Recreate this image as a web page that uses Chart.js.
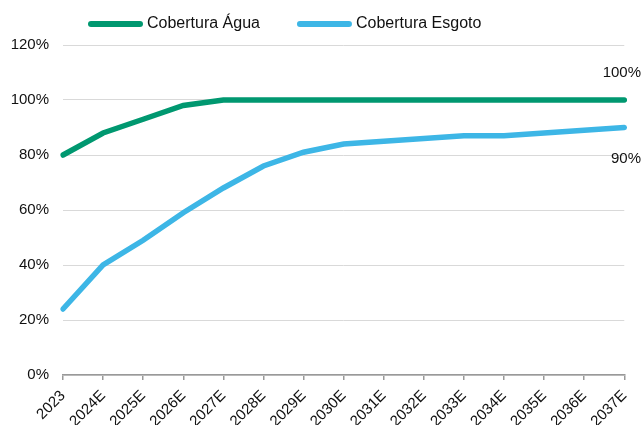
<!DOCTYPE html>
<html><head><meta charset="utf-8">
<script src="https://cdn.jsdelivr.net/npm/chart.js@4/dist/chart.umd.min.js"></script>
<style>html,body{margin:0;padding:0;background:#fff}#wrap{width:644px;height:425px}</style>
</head><body><div id="wrap"><canvas id="c" width="644" height="425"></canvas></div>
<script>
const categories = ['2023','2024E','2025E','2026E','2027E','2028E','2029E','2030E','2031E','2032E','2033E','2034E','2035E','2036E','2037E'];
const agua = [80,88,93,98,100,100,100,100,100,100,100,100,100,100,100];
const esgoto = [24,40,49,59,68,76,81,84,85,86,87,87,88,89,90];
const yTicks = [0,20,40,60,80,100,120];
const FONT = '"Liberation Sans", Arial, sans-serif';

const endLabels = {
  id:'endLabels',
  afterDatasetsDraw(chart){
    const ctx = chart.ctx;
    ctx.save();
    ctx.font = '15px ' + FONT;
    ctx.fillStyle = '#111';
    ctx.textAlign = 'right';
    ctx.textBaseline = 'middle';
    chart.data.datasets.forEach((ds, i) => {
      const meta = chart.getDatasetMeta(i);
      const pt = meta.data[meta.data.length-1];
      const v = ds.data[ds.data.length-1];
      ctx.fillText(v + '%', chart.width - 3, i === 0 ? pt.y - 27 : pt.y + 31);
    });
    ctx.restore();
  }
};

const customLegend = {
  id:'customLegend',
  afterDraw(chart){
    const ctx = chart.ctx;
    ctx.save();
    ctx.font = '16px ' + FONT;
    ctx.textBaseline = 'middle';
    ctx.textAlign = 'left';
    let x = 88; const y = 24;
    chart.data.datasets.forEach(ds => {
      ctx.strokeStyle = ds.borderColor;
      ctx.lineWidth = 6;
      ctx.lineCap = 'round';
      ctx.beginPath(); ctx.moveTo(x + 3, y); ctx.lineTo(x + 52, y); ctx.stroke();
      ctx.fillStyle = '#111';
      ctx.fillText(ds.label, x + 59, y);
      x += 59 + ctx.measureText(ds.label).width + 37;
    });
    ctx.restore();
  }
};

new Chart(document.getElementById('c'), {
  type:'line',
  data:{
    labels:categories,
    datasets:[
      {label:'Cobertura Água', data:agua, borderColor:'#009870', backgroundColor:'#009870', borderWidth:5.5, pointRadius:0, tension:0, borderCapStyle:'round'},
      {label:'Cobertura Esgoto', data:esgoto, borderColor:'#3DB6E6', backgroundColor:'#3DB6E6', borderWidth:5.5, pointRadius:0, tension:0, borderCapStyle:'round'}
    ]
  },
  options:{
    responsive:false, animation:false,
    layout:{padding:{left:0,right:19,top:45,bottom:0}},
    plugins:{
      legend:{display:false},
      tooltip:{enabled:false}
    },
    scales:{
      x:{offset:false, grid:{display:true, drawOnChartArea:false, drawTicks:true, tickLength:5, color:'#999', lineWidth:1.5}, border:{color:'#999', width:1.5},
         ticks:{color:'#111', maxRotation:45, minRotation:45, autoSkip:false, padding:7, font:{family:FONT, size:15}},
         afterFit(s){s.height=50;}},
      y:{min:0,max:120, afterBuildTicks(s){s.ticks = yTicks.map(v=>({value:v}));},
         grid:{color:'#d9d9d9', drawTicks:false}, border:{display:false},
         ticks:{color:'#111', padding:14, callback:v=>v+'%', font:{family:FONT, size:15}},
         afterFit(s){s.width=63;}}
    }
  },
  plugins:[endLabels, customLegend]
});
</script></body></html>
